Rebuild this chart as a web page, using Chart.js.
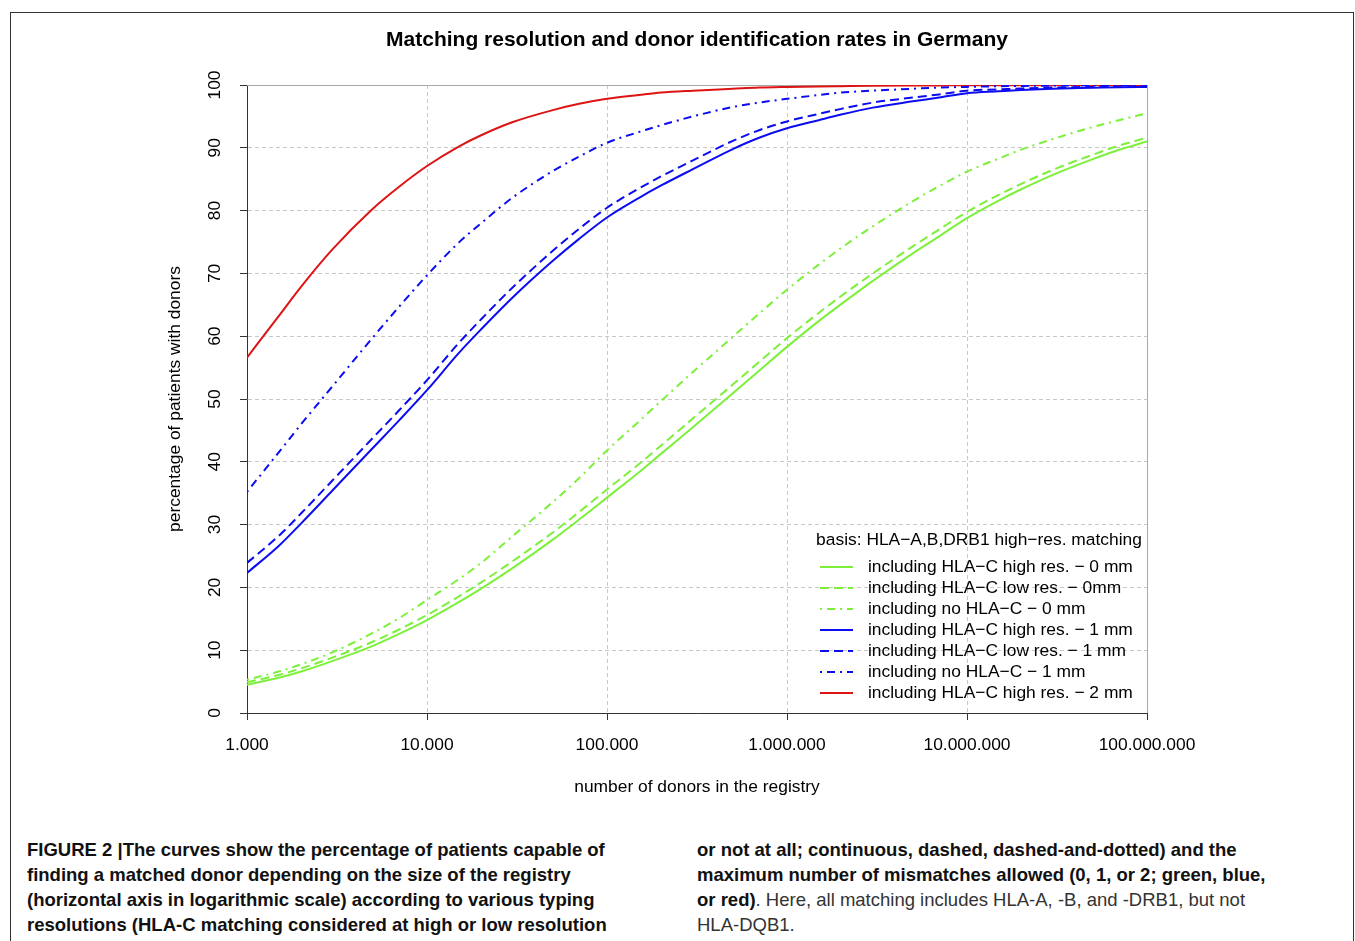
<!DOCTYPE html>
<html>
<head>
    <meta charset="utf-8">
    <title>Matching resolution and donor identification rates in Germany</title>
    <script src="https://cdn.jsdelivr.net/npm/chart.js@4.4.1/dist/chart.umd.min.js"></script>
    <style>
        html, body {
            margin: 0;
            padding: 0;
            background: #fff;
            overflow: hidden;
        }
        body {
            width: 1355px;
            height: 941px;
            position: relative;
            font-family: 'Liberation Sans', Arial, sans-serif;
        }
        .frame {
            position: absolute;
            left: 10px;
            top: 12px;
            width: 1342px;
            height: 1000px;
            border: 1px solid #333;
        }
        #chart-container {
            position: absolute;
            left: 0;
            top: 0;
            width: 1355px;
            height: 820px;
        }
        .caption {
            position: absolute;
            top: 837px;
            font-size: 18.5px;
            line-height: 25px;
            color: #111;
            white-space: nowrap;
        }
        .caption b { font-weight: bold; }
        .caption .plain { color: #333; }
        #capLeft { left: 27px; font-weight: bold; }
        #capRight { left: 697px; }
    </style>
</head>
<body>
    <div class="frame"></div>
    <div id="chart-container">
        <canvas id="donorChart"></canvas>
    </div>
    <div class="caption" id="capLeft">
        <div>FIGURE 2 |The curves show the percentage of patients capable of</div>
        <div>finding a matched donor depending on the size of the registry</div>
        <div>(horizontal axis in logarithmic scale) according to various typing</div>
        <div>resolutions (HLA-C matching considered at high or low resolution</div>
    </div>
    <div class="caption" id="capRight">
        <div><b>or not at all; continuous, dashed, dashed-and-dotted) and the</b></div>
        <div><b>maximum number of mismatches allowed (0, 1, or 2; green, blue,</b></div>
        <div><b>or red)</b><span class="plain">. Here, all matching includes HLA-A, -B, and -DRB1, but not</span></div>
        <div><span class="plain">HLA-DQB1.</span></div>
    </div>
    <script>
        // registry sizes (x, log scale)
        const donors = [1e3, 1.5e3, 2e3, 3e3, 5e3, 7e3,
                        1e4, 1.5e4, 2e4, 3e4, 5e4, 7e4,
                        1e5, 1.5e5, 2e5, 3e5, 5e5, 7e5,
                        1e6, 1.5e6, 2e6, 3e6, 5e6, 7e6,
                        1e7, 1.5e7, 2e7, 3e7, 5e7, 7e7,
                        1e8];

        // percentage of patients with donors
        const greenHigh0 = [4.5, 5.6, 6.6, 8.3, 10.7, 12.6,
                            14.8, 17.65, 19.8, 23.1, 27.6, 30.8,
                            34.3, 38.3, 41.3, 45.5, 50.9, 54.5,
                            58.3, 62.4, 65.1, 68.8, 73.2, 75.9,
                            78.8, 81.6, 83.4, 85.7, 88.2, 89.7,
                            91.0];
        const greenLow0 = [4.9, 6.05, 7.1, 8.85, 11.35, 13.3,
                           15.6, 18.55, 20.8, 24.2, 28.75, 32.0,
                           35.6, 39.6, 42.6, 46.9, 52.3, 55.9,
                           59.7, 63.7, 66.4, 70.0, 74.3, 77.0,
                           79.8, 82.5, 84.25, 86.5, 88.9, 90.35,
                           91.6];
        const greenNo0 = [5.3, 6.6, 7.75, 9.7, 12.75, 15.1,
                          18.0, 21.3, 23.9, 28.2, 33.6, 37.4,
                          41.8, 46.4, 49.7, 54.3, 59.9, 63.6,
                          67.4, 71.4, 74.05, 77.5, 81.5, 83.9,
                          86.2, 88.3, 89.7, 91.4, 93.3, 94.4,
                          95.5];
        const blueHigh1 = [22.3, 26.6, 30.2, 35.5, 42.2, 46.6,
                           51.4, 57.3, 61.1, 66.2, 72.0, 75.5,
                           78.9, 82.0, 84.0, 86.6, 89.8, 91.6,
                           93.1, 94.4, 95.3, 96.4, 97.4, 98.0,
                           98.7, 99.0, 99.2, 99.4, 99.55, 99.65,
                           99.7];
        const blueLow1 = [23.9, 28.2, 31.8, 37.1, 43.8, 48.2,
                          53.0, 58.9, 62.7, 67.8, 73.6, 77.1,
                          80.45, 83.5, 85.45, 88.0, 91.1, 92.8,
                          94.2, 95.4, 96.2, 97.2, 98.0, 98.5,
                          99.1, 99.3, 99.45, 99.6, 99.7, 99.75,
                          99.8];
        const blueNo1 = [35.2, 41.5, 46.0, 52.1, 59.8, 64.7,
                         69.7, 74.9, 78.0, 82.1, 86.3, 88.6,
                         90.8, 92.5, 93.6, 95.0, 96.5, 97.2,
                         97.8, 98.4, 98.8, 99.1, 99.4, 99.6,
                         99.7, 99.8, 99.85, 99.9, 99.95, 99.97,
                         100];
        const redHigh2 = [56.6, 63.2, 67.9, 73.9, 80.3, 83.8,
                          87.1, 90.2, 92.0, 94.1, 96.0, 97.0,
                          97.8, 98.4, 98.8, 99.1, 99.4, 99.6,
                          99.7, 99.78, 99.82, 99.87, 99.91, 99.93,
                          99.95, 99.96, 99.97, 99.98, 99.99, 99.99,
                          100];

        const seriesLabels = [
            'including HLA\u2212C high res. \u2212 0 mm',
            'including HLA\u2212C low res. \u2212 0mm',
            'including no HLA\u2212C \u2212 0 mm',
            'including HLA\u2212C high res. \u2212 1 mm',
            'including HLA\u2212C low res. \u2212 1 mm',
            'including no HLA\u2212C \u2212 1 mm',
            'including HLA\u2212C high res. \u2212 2 mm'
        ];
        const legendTitle = 'basis: HLA\u2212A,B,DRB1 high\u2212res. matching';

        const xTicks = [1e3, 1e4, 1e5, 1e6, 1e7, 1e8];
        const xTickLabels = ['1.000', '10.000', '100.000', '1.000.000', '10.000.000', '100.000.000'];
        const yTicks = [0, 10, 20, 30, 40, 50, 60, 70, 80, 90, 100];
        const yTickLabels = ['0', '10', '20', '30', '40', '50', '60', '70', '80', '90', '100'];

        const GREEN = '#7cf03a';
        const BLUE = '#0c0cf2';
        const RED = '#de1414';
        const SOLID = [];
        const DASHED = [9, 5];
        const DOTDASH = [2, 5, 8, 5];

        const FAMILY = "'Liberation Sans', Arial, Helvetica, sans-serif";
        Chart.defaults.font.family = FAMILY;

        const styles = [
            [greenHigh0, GREEN, SOLID],
            [greenLow0, GREEN, DASHED],
            [greenNo0, GREEN, DOTDASH],
            [blueHigh1, BLUE, SOLID],
            [blueLow1, BLUE, DASHED],
            [blueNo1, BLUE, DOTDASH],
            [redHigh2, RED, SOLID]
        ];

        const datasets = styles.map(([values, color, dash], i) => ({
            label: seriesLabels[i],
            data: donors.map((d, j) => ({x: d, y: values[j]})),
            borderColor: color,
            borderWidth: 2,
            borderDash: dash,
            pointRadius: 0,
            cubicInterpolationMode: 'monotone',
            fill: false
        }));

        // grey box on top and right side of the plot, like R's box()
        const plotBox = {
            id: 'plotBox',
            beforeDatasetsDraw(chart) {
                const {ctx, chartArea: a} = chart;
                ctx.save();
                ctx.strokeStyle = '#a8a8a8';
                ctx.lineWidth = 1;
                ctx.beginPath();
                ctx.moveTo(a.left, Math.round(a.top) + 0.5);
                ctx.lineTo(Math.round(a.right) + 0.5, Math.round(a.top) + 0.5);
                ctx.lineTo(Math.round(a.right) + 0.5, a.bottom);
                ctx.stroke();
                ctx.restore();
            }
        };

        // legend inside the plot, bottom right, no frame
        const basisLegend = {
            id: 'basisLegend',
            afterDatasetsDraw(chart) {
                const {ctx, chartArea} = chart;
                const right = chartArea.right;
                const bottom = chartArea.bottom;
                const sets = chart.data.datasets;
                ctx.save();
                ctx.font = '17.4px ' + FAMILY;
                ctx.fillStyle = '#000';
                ctx.textBaseline = 'middle';
                ctx.textAlign = 'center';
                ctx.fillText(legendTitle, right - 168, bottom - 173);
                ctx.textAlign = 'left';
                sets.forEach((ds, i) => {
                    const y = bottom - 20 - 21 * (sets.length - 1 - i);
                    ctx.strokeStyle = ds.borderColor;
                    ctx.lineWidth = ds.borderWidth;
                    ctx.setLineDash(ds.borderDash);
                    ctx.beginPath();
                    ctx.moveTo(right - 327, y);
                    ctx.lineTo(right - 294, y);
                    ctx.stroke();
                    ctx.setLineDash([]);
                    ctx.fillText(ds.label, right - 279, y);
                });
                ctx.restore();
            }
        };

        const gridOpts = {
            color: '#c8c8c8',
            lineWidth: 1,
            tickLength: 7,
            tickColor: '#333',
            tickWidth: 1,
            tickBorderDash: []
        };
        const borderOpts = {display: true, color: '#333', width: 1, dash: [4, 3]};

        const ctx = document.getElementById('donorChart').getContext('2d');
        const donorChart = new Chart(ctx, {
            type: 'line',
            data: {datasets: datasets},
            plugins: [plotBox, basisLegend],
            options: {
                responsive: true,
                maintainAspectRatio: false,
                animation: false,
                layout: {padding: {left: 0, right: 208, top: 0, bottom: 0}},
                plugins: {
                    legend: {display: false},
                    tooltip: {enabled: false},
                    title: {
                        display: true,
                        fullSize: false,
                        text: 'Matching resolution and donor identification rates in Germany',
                        font: {size: 21, weight: 'bold'},
                        color: '#000',
                        padding: {top: 28, bottom: 31.8}
                    }
                },
                scales: {
                    x: {
                        type: 'logarithmic',
                        min: 1e3,
                        max: 1e8,
                        afterBuildTicks: (scale) => { scale.ticks = xTicks.map(v => ({value: v})); },
                        afterFit: (scale) => { scale.height = 107; },
                        ticks: {
                            autoSkip: false,
                            maxRotation: 0,
                            padding: 14.5,
                            color: '#000',
                            font: {size: 17.4},
                            callback: (value, index) => xTickLabels[index]
                        },
                        grid: gridOpts,
                        border: borderOpts,
                        title: {
                            display: true,
                            text: 'number of donors in the registry',
                            color: '#000',
                            font: {size: 17.4},
                            padding: {top: 0, bottom: 22.6}
                        }
                    },
                    y: {
                        type: 'linear',
                        min: 0,
                        max: 100,
                        afterBuildTicks: (scale) => { scale.ticks = yTicks.map(v => ({value: v})); },
                        afterFit: (scale) => { scale.width = 247; },
                        ticks: {
                            minRotation: 90,
                            maxRotation: 90,
                            crossAlign: 'center',
                            padding: 10.5,
                            color: '#000',
                            font: {size: 17.4},
                            callback: (value, index) => yTickLabels[index]
                        },
                        grid: gridOpts,
                        border: borderOpts,
                        title: {
                            display: true,
                            text: 'percentage of patients with donors',
                            color: '#000',
                            font: {size: 17.4},
                            padding: {top: 164.6, bottom: 0}
                        }
                    }
                }
            }
        });
    </script>
</body>
</html>
